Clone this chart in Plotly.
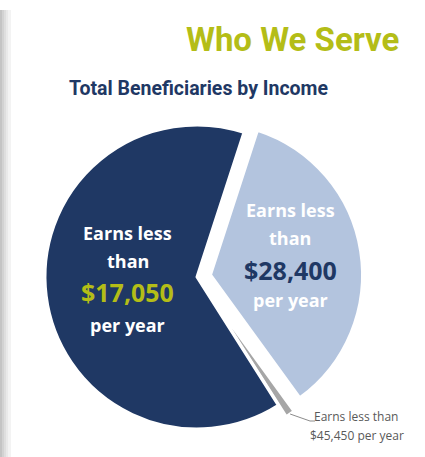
import math
import plotly.graph_objects as go

W, H = 425, 457

# Share of beneficiaries per income band (percent)
bands = ["Earns less than $28,400 per year",
         "Earns less than $45,450 per year",
         "Earns less than $17,050 per year"]
shares = [35, 1, 64]
slice_colors = ["#b3c4de", "#a6a6a6", "#1f3864"]
pulls = [0.09, 0.09, 0.0]

# Income threshold labels
dark_label = ["Earns less", "than", "$17,050", "per year"]
light_label = ["Earns less", "than", "$28,400", "per year"]
small_label = ["Earns less than", "$45,450 per year"]

title_text = "Who We Serve"
subtitle_text = "Total Beneficiaries by Income"

NAVY = "#1f3864"
LIME = "#b4bd17"

# pie placement in pixels
cx, cy, R = 197, 277, 152
rotation = 18
max_pull = max(pulls)
half = R * (1 + max_pull)


def px(x):
    return x / W


def py(y):
    return 1 - y / H


fig = go.Figure()
fig.add_trace(go.Pie(
    labels=bands,
    values=shares,
    sort=False,
    direction="clockwise",
    rotation=rotation,
    pull=pulls,
    marker=dict(colors=slice_colors, line=dict(color="white", width=3)),
    textinfo="none",
    hoverinfo="label+percent",
    showlegend=False,
    domain=dict(x=[px(cx - half), px(cx + half)],
                y=[py(cy + half), py(cy - half)]),
))

ann = []
shapes = []

# left page edge shading
for x0, x1, col in [(0, 2, "#c4c4c4"), (2, 4, "#d2d2d2"), (4, 6, "#dedede"),
                    (6, 8, "#e9e9e9"), (8, 11, "#f3f3f3")]:
    shapes.append(dict(type="rect", xref="paper", yref="paper",
                       x0=px(x0), x1=px(x1), y0=0, y1=py(10),
                       fillcolor=col, line=dict(width=0), layer="below"))

HEAD_FONT = "Roboto, sans-serif"
ann.append(dict(text="<b>" + title_text + "</b>", x=px(184), y=py(39),
                xanchor="left", yanchor="middle", showarrow=False,
                font=dict(family=HEAD_FONT, size=33, color=LIME)))
ann.append(dict(text="<b>" + subtitle_text + "</b>", x=px(67), y=py(89),
                xanchor="left", yanchor="middle", showarrow=False,
                font=dict(family=HEAD_FONT, size=19.5, color=NAVY)))

LABEL_FONT = "Open Sans, sans-serif"


def slice_text(lines, xc, ys, colors, sizes):
    for t, yy, c, s in zip(lines, ys, colors, sizes):
        ann.append(dict(text="<b>" + t + "</b>", x=px(xc), y=py(yy),
                        xanchor="center", yanchor="middle", showarrow=False,
                        font=dict(family=LABEL_FONT, size=s, color=c)))


slice_text(dark_label, 128, [233, 261, 292, 325],
           ["white", "white", LIME, "white"], [18, 18, 25, 18])
slice_text(light_label, 290, [210, 238, 270, 300],
           ["white", "white", NAVY, "white"], [18, 18, 25, 18])

# callout for the thin slice, anchored at its outer tip
mid = rotation + (shares[0] + shares[1] / 2) / sum(shares) * 360
r_tip = R * (1 + pulls[1])
tx = cx + r_tip * math.sin(math.radians(mid))
ty = cy - r_tip * math.cos(math.radians(mid))
shapes.append(dict(type="line", xref="paper", yref="paper",
                   x0=px(tx), y0=py(ty), x1=px(310), y1=py(421),
                   line=dict(color="#8c8c8c", width=1)))
shapes.append(dict(type="line", xref="paper", yref="paper",
                   x0=px(310), y0=py(421), x1=px(315), y1=py(421),
                   line=dict(color="#8c8c8c", width=1)))
ann.append(dict(text=small_label[0], x=px(312), y=py(416), xanchor="left",
                yanchor="middle", showarrow=False,
                font=dict(family=LABEL_FONT, size=12, color="#595959")))
ann.append(dict(text=small_label[1], x=px(308), y=py(435), xanchor="left",
                yanchor="middle", showarrow=False,
                font=dict(family=LABEL_FONT, size=12, color="#595959")))

fig.update_layout(
    width=W, height=H,
    margin=dict(l=0, r=0, t=0, b=0),
    paper_bgcolor="white",
    plot_bgcolor="white",
    annotations=ann,
    shapes=shapes,
)

fig.write_html("out.html")
